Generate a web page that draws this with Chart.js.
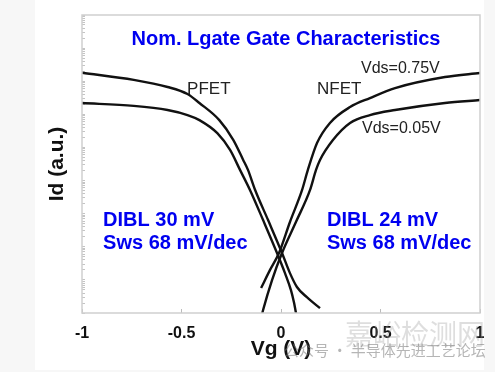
<!DOCTYPE html>
<html>
<head>
<meta charset="utf-8">
<script src="https://cdn.jsdelivr.net/npm/chart.js@4/dist/chart.umd.min.js"></script>
<style>
  html, body { margin: 0; padding: 0; background: #fff; }
  #wrap { width: 495px; height: 372px; }
</style>
</head>
<body>
<div id="wrap"><canvas id="chart"></canvas></div>
<script>
// Id (a.u.) vs Vg (V), log scale.
const vgTicks = [-1, -0.5, 0, 0.5, 1];

// PFET, Vds = 0.75 V
const pfetHiVg = [-1.0, -0.74, -0.57, -0.47, -0.41, -0.31, -0.24, -0.19, -0.166, -0.13, -0.065, 0.005, 0.045, 0.08, 0.13, 0.196];
const pfetHiId = [1.8e-2, 1.1e-2, 6.7e-3, 4.1e-3, 2.2e-3, 6.7e-4, 1.7e-4, 4.2e-5, 2.1e-5, 5.2e-6, 6.4e-7, 6.5e-8, 1.6e-8, 6.1e-9, 3.0e-9, 1.4e-9];
// PFET, Vds = 0.05 V
const pfetLoVg = [-1.0, -0.74, -0.57, -0.47, -0.41, -0.32, -0.256, -0.206, -0.156, -0.09, -0.02, 0.02, 0.05, 0.065, 0.08];
const pfetLoId = [2.2e-3, 1.8e-3, 1.35e-3, 9.5e-4, 6.7e-4, 2.7e-4, 8.4e-5, 2.1e-5, 5.2e-6, 6.4e-7, 6.5e-8, 1.6e-8, 4.9e-9, 2.1e-9, 7e-10];
// NFET, Vds = 0.75 V
const nfetHiVg = [-0.10, -0.055, -0.01, 0.045, 0.106, 0.135, 0.181, 0.246, 0.347, 0.447, 0.573, 0.824, 1.0];
const nfetHiId = [5.7e-9, 2.0e-8, 6.5e-8, 5.6e-7, 5.2e-6, 2.1e-5, 1.36e-4, 5.5e-4, 1.66e-3, 3.1e-3, 6.2e-3, 1.34e-2, 1.77e-2];
// NFET, Vds = 0.05 V
const nfetLoVg = [-0.10, -0.09, -0.045, 0.005, 0.075, 0.146, 0.176, 0.196, 0.261, 0.347, 0.447, 0.573, 0.824, 1.0];
const nfetLoId = [7e-10, 1.23e-9, 9.9e-9, 6.5e-8, 5.6e-7, 5.2e-6, 2.1e-5, 4.2e-5, 1.68e-4, 5.5e-4, 9.5e-4, 1.35e-3, 2.2e-3, 2.7e-3];

const idMin = 1e-9;
const idMax = 1;

const FONT = "'Liberation Sans', Arial, Helvetica, sans-serif";
const BLUE = '#0000f0';

// text drawn inside the plot, placed in data coordinates
const notes = [
    { text: 'Nom. Lgate Gate Characteristics', vg: 0.025, id: 0.188, align: 'center', font: 'bold 20px', color: BLUE },
    { text: 'PFET', vg: -0.472, id: 5.8e-3, align: 'left', font: '17px', color: '#222' },
    { text: 'NFET', vg: 0.181, id: 5.6e-3, align: 'left', font: '17px', color: '#222' },
    { text: 'Vds=0.75V', vg: 0.402, id: 2.34e-2, align: 'left', font: '16px', color: '#222' },
    { text: 'Vds=0.05V', vg: 0.407, id: 3.73e-4, align: 'left', font: '16px', color: '#222' },
    { text: 'DIBL 30 mV', vg: -0.894, id: 6.4e-7, align: 'left', font: 'bold 20px', color: BLUE },
    { text: 'Sws 68 mV/dec', vg: -0.894, id: 1.26e-7, align: 'left', font: 'bold 20px', color: BLUE },
    { text: 'DIBL 24 mV', vg: 0.231, id: 6.4e-7, align: 'left', font: 'bold 20px', color: BLUE },
    { text: 'Sws 68 mV/dec', vg: 0.231, id: 1.26e-7, align: 'left', font: 'bold 20px', color: BLUE }
];

function pts(xs, ys) {
    return xs.map((x, i) => ({ x: x, y: ys[i] }));
}

function curve(label, xs, ys) {
    return {
        label: label,
        data: pts(xs, ys),
        borderColor: '#111',
        borderWidth: 2.4,
        pointRadius: 0,
        fill: false,
        cubicInterpolationMode: 'monotone'
    };
}

const pageBack = {
    id: 'pageBack',
    beforeDraw(chart) {
        const ctx = chart.ctx;
        ctx.save();
        ctx.fillStyle = '#f7f7f7';
        ctx.fillRect(0, 0, chart.width, chart.height);
        ctx.fillStyle = '#fff';
        ctx.fillRect(35, 0, 449, 370);
        ctx.restore();
    }
};

const frameAndNotes = {
    id: 'frameAndNotes',
    afterDatasetsDraw(chart) {
        const { ctx, chartArea: a, scales } = chart;
        ctx.save();
        ctx.strokeStyle = '#cfcfcf';
        ctx.lineWidth = 1.5;
        ctx.strokeRect(a.left, a.top, a.right - a.left, a.bottom - a.top);
        ctx.textBaseline = 'middle';
        notes.forEach(n => {
            ctx.font = n.font + ' ' + FONT;
            ctx.fillStyle = n.color;
            ctx.textAlign = n.align;
            ctx.fillText(n.text, scales.x.getPixelForValue(n.vg), scales.y.getPixelForValue(n.id));
        });
        ctx.restore();
    },
    afterDraw(chart) {
        // faint watermark that sits over the reference picture
        const ctx = chart.ctx;
        ctx.save();
        ctx.textBaseline = 'middle';
        ctx.textAlign = 'left';
        ctx.fillStyle = 'rgba(160,160,160,0.35)';
        ctx.font = "28px 'Noto Sans CJK SC', sans-serif";
        ctx.fillText('嘉峪检测网', 345, 334);
        ctx.fillStyle = 'rgba(120,120,120,0.55)';
        ctx.font = "15px 'Noto Sans CJK SC', sans-serif";
        ctx.fillText('公众号 · 半导体先进工艺论坛', 284, 350);
        ctx.restore();
    }
};

const logTicks = [];
for (let e = Math.log10(idMin); e < 0; e++) {
    for (let s = 1; s <= 9; s++) logTicks.push(s * Math.pow(10, e));
}
logTicks.push(idMax);

new Chart(document.getElementById('chart'), {
    type: 'line',
    data: {
        datasets: [
            curve('PFET Vds=0.75V', pfetHiVg, pfetHiId),
            curve('PFET Vds=0.05V', pfetLoVg, pfetLoId),
            curve('NFET Vds=0.75V', nfetHiVg, nfetHiId),
            curve('NFET Vds=0.05V', nfetLoVg, nfetLoId)
        ]
    },
    options: {
        responsive: true,
        maintainAspectRatio: false,
        animation: false,
        events: [],
        layout: { padding: { left: 0, right: 15, top: 15, bottom: 0 } },
        plugins: { legend: { display: false }, tooltip: { enabled: false } },
        scales: {
            x: {
                type: 'linear',
                min: -1,
                max: 1,
                afterBuildTicks: (axis) => { axis.ticks = vgTicks.map(v => ({ value: v })); },
                afterFit: (axis) => { axis.height = 59; axis.paddingLeft = 0; axis.paddingRight = 0; },
                border: { display: false },
                grid: { drawOnChartArea: false, tickLength: -4, tickColor: '#bbb' },
                ticks: {
                    color: '#111', padding: 15, maxRotation: 0,
                    callback: (v) => String(v),
                    font: { family: FONT, size: 16, weight: 'bold' }
                },
                title: { display: true, text: 'Vg (V)', color: '#111', padding: { top: 0, bottom: 10 }, font: { family: FONT, size: 21, weight: 'bold' } }
            },
            y: {
                type: 'logarithmic',
                min: idMin,
                max: idMax,
                afterBuildTicks: (axis) => { axis.ticks = logTicks.map(v => ({ value: v })); },
                afterFit: (axis) => { axis.width = 82; axis.paddingTop = 0; axis.paddingBottom = 0; },
                border: { display: false },
                grid: { drawOnChartArea: false, tickLength: -3, tickColor: '#c4c4c4' },
                ticks: { display: false },
                title: { display: true, text: 'Id (a.u.)', color: '#111', padding: { top: 45, bottom: 0 }, font: { family: FONT, size: 21, weight: 'bold' } }
            }
        }
    },
    plugins: [pageBack, frameAndNotes]
});
</script>
</body>
</html>
